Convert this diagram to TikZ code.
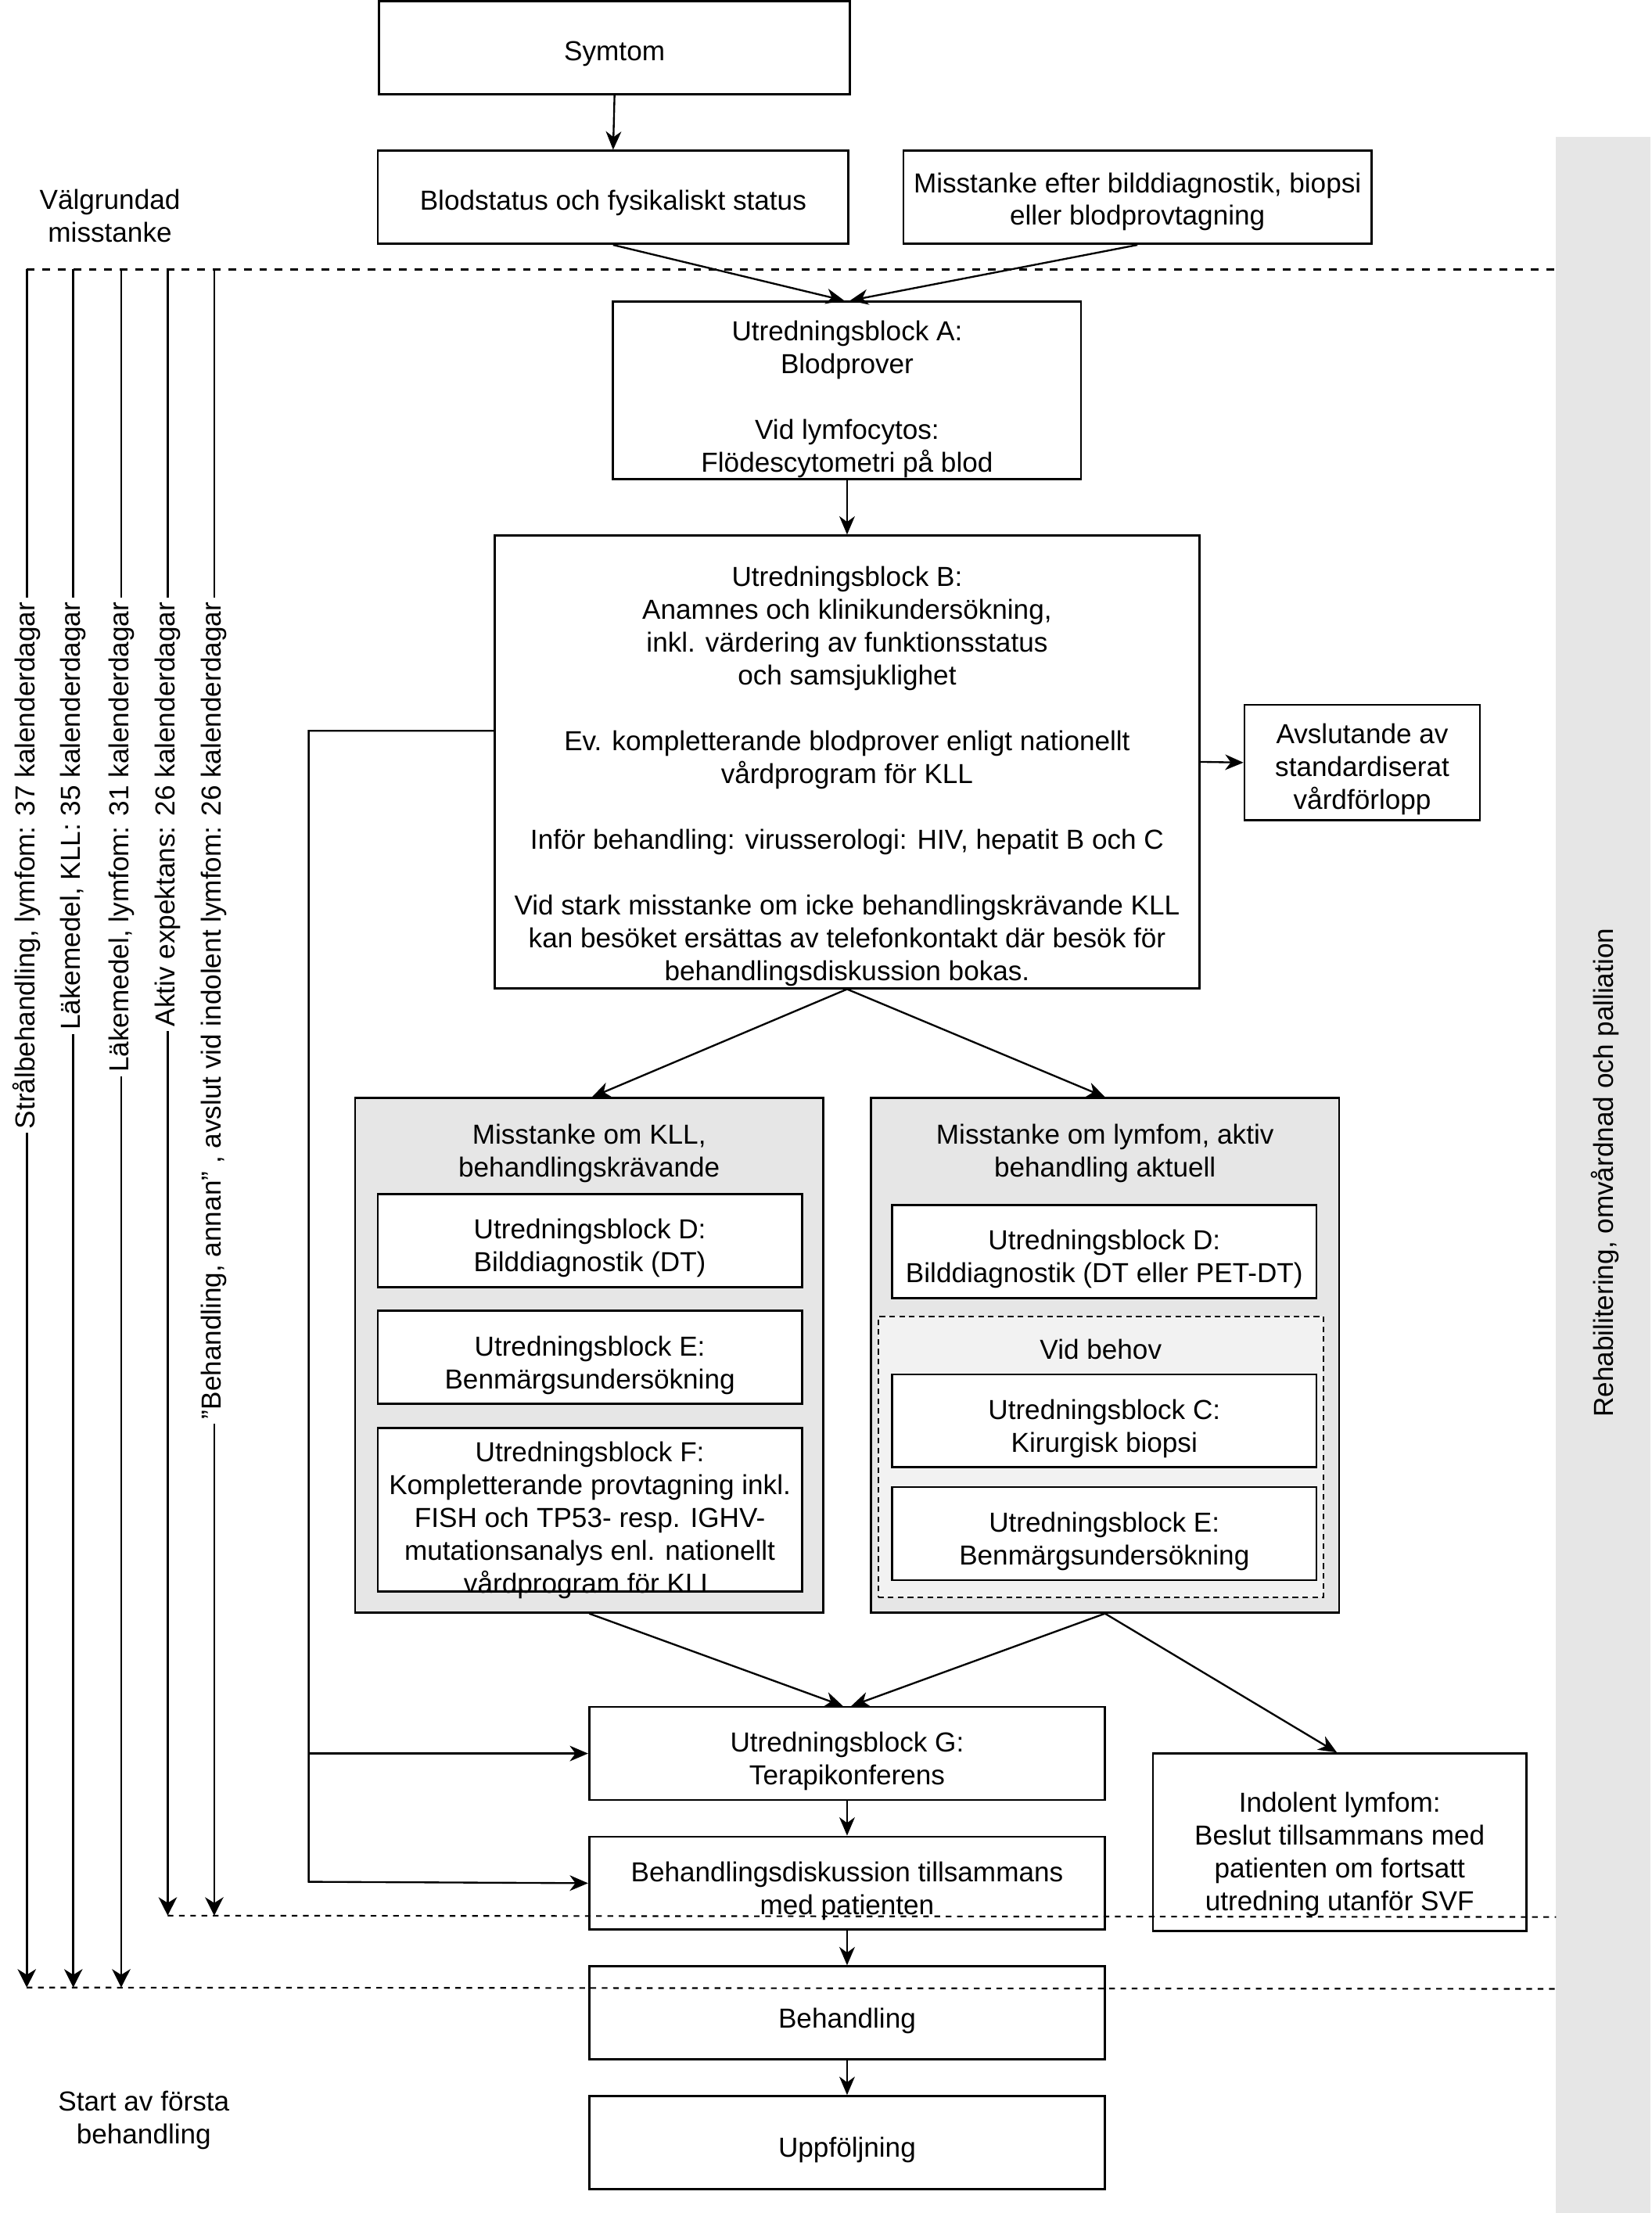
\documentclass[tikz,border=0pt]{standalone}
\usepackage{fontspec}
\setmainfont{Liberation Sans}
\usetikzlibrary{arrows.meta,calc}
\newcommand\dfont{\fontsize{19.5pt}{23.3pt}\selectfont}
\newcommand\bt[2][11pt]{\raisebox{-#1}[0pt][0pt]{\begin{tabular}{@{}c@{}}#2\end{tabular}}}
\definecolor{graybg}{HTML}{E6E6E6}
\definecolor{lightbg}{HTML}{F2F2F2}
\begin{document}
\begin{tikzpicture}[x=1pt,y=-1pt,
  box/.style={draw, fill=white, line width=1.5pt, inner sep=0pt, font=\dfont},
  graybox/.style={draw, fill=graybg, line width=1.4pt, inner sep=0pt},
  txt/.style={inner sep=0pt, align=center, font=\dfont},
  arr/.style={-{Stealth[length=13pt,width=11pt,inset=4pt]}, line width=1.3pt},
  varr/.style={-{Stealth[length=13pt,width=13pt,inset=4pt]}, line width=1.5pt},
  vlab/.style={rotate=90, fill=white, inner xsep=3pt, inner ysep=1pt, font=\dfont, anchor=east},
  dtop/.style={line width=1.5pt, dash pattern=on 5.5pt off 5.5pt},
  dbot/.style={line width=1.2pt, dash pattern=on 4pt off 4pt}
]
\useasboundingbox (0,0) rectangle (1172,1570);
% right band
\fill[graybg] (1104,97) rectangle (1171,1570);
\node[txt, rotate=90] (band) at (1139,832) {Rehabilitering, omvårdnad och palliation};

% side texts
\node[txt] (valg) at (78,153) {Välgrundad\\misstanke};
\node[txt] (start) at (102,1504) {Start av första\\behandling};

% top boxes
\node[box, minimum width=334pt, minimum height=66pt] (sym) at (436,34) {\bt[9.5pt]{Symtom}};
\node[box, minimum width=334pt, minimum height=66pt] (blod) at (435,140) {\bt[9.5pt]{Blodstatus och fysikaliskt status}};
\node[box, minimum width=332pt, minimum height=66pt] (miss) at (807,140) {\bt[8.7pt]{Misstanke efter bilddiagnostik, biopsi\\eller blodprovtagning}};
\node[box, minimum width=332pt, minimum height=126pt] (A) at (601,277) {\bt[11.6pt]{Utredningsblock A:\\Blodprover\\ \\Vid lymfocytos:\\Flödescytometri på blod}};
\node[box, minimum width=500pt, minimum height=321pt] (B) at (601,540.5) {\bt[15.6pt]{Utredningsblock B:\\Anamnes och klinikundersökning,\\inkl. värdering av funktionsstatus\\och samsjuklighet\\ \\Ev. kompletterande blodprover enligt nationellt\\vårdprogram för KLL\\ \\Inför behandling: virusserologi: HIV, hepatit B och C\\ \\Vid stark misstanke om icke behandlingskrävande KLL\\kan besöket ersättas av telefonkontakt där besök för\\behandlingsdiskussion bokas.}};
\node[box, minimum width=167pt, minimum height=82pt] (avs) at (966.5,541) {\bt[10.4pt]{Avslutande av\\standardiserat\\vårdförlopp}};

% gray groups
\node[graybox, minimum width=332pt, minimum height=365pt] (kll) at (418,961.5) {};
\node[txt] (kllt) at (418,818) {Misstanke om KLL,\\behandlingskrävande};
\node[box, minimum width=301pt, minimum height=66pt] (kd) at (418.5,880) {\bt{Utredningsblock D:\\Bilddiagnostik (DT)}};
\node[box, minimum width=301pt, minimum height=66pt] (ke) at (418.5,963) {\bt{Utredningsblock E:\\Benmärgsundersökning}};
\node[box, minimum width=301pt, minimum height=116pt] (kf) at (418.5,1071) {\bt[12.9pt]{Utredningsblock F:\\Kompletterande provtagning inkl.\\FISH och TP53- resp. IGHV-\\mutationsanalys enl. nationellt\\vårdprogram för KLL}};

\node[graybox, minimum width=332pt, minimum height=365pt] (lym) at (784,961.5) {};
\node[txt] (lymt) at (784,818) {Misstanke om lymfom, aktiv\\behandling aktuell};
\node[box, minimum width=301pt, minimum height=66pt] (ld) at (783.5,888) {\bt{Utredningsblock D:\\Bilddiagnostik (DT eller PET-DT)}};
\node[draw, fill=lightbg, line width=1.2pt, dash pattern=on 4pt off 3pt, minimum width=316pt, minimum height=199pt, inner sep=0pt] (vb) at (781,1033.5) {};
\node[txt] (vbt) at (781,957) {Vid behov};
\node[box, minimum width=301pt, minimum height=66pt] (lc) at (783.5,1008) {\bt{Utredningsblock C:\\Kirurgisk biopsi}};
\node[box, minimum width=301pt, minimum height=66pt] (le) at (783.5,1088) {\bt{Utredningsblock E:\\Benmärgsundersökning}};

% lower boxes
\node[box, minimum width=366pt, minimum height=66pt] (G) at (601,1244) {\bt{Utredningsblock G:\\Terapikonferens}};
\node[box, minimum width=265pt, minimum height=126pt] (ind) at (950.5,1307) {\bt[13.9pt]{Indolent lymfom:\\Beslut tillsammans med\\patienten om fortsatt\\utredning utanför SVF}};
\node[box, minimum width=366pt, minimum height=66pt] (bd) at (601,1336) {\bt{Behandlingsdiskussion tillsammans\\med patienten}};
\node[box, minimum width=366pt, minimum height=66pt] (beh) at (601,1428) {\bt{Behandling}};
\node[box, minimum width=366pt, minimum height=66pt] (upp) at (601,1520) {\bt{Uppföljning}};

% connectors
\draw[arr] (sym.south) -- (blod.north);
\draw[arr] (blod.south) -- ([xshift=-2pt]A.north);
\draw[arr] (miss.south) -- ([xshift=2pt]A.north);
\draw[arr] (A.south) -- (B.north);
\draw[arr] (B.east) -- (avs.west);
\coordinate (jl) at (219,1335);
\draw[arr] ([yshift=22pt]B.west) -| (jl) -- (bd.west);
\draw[arr] (G.west -| jl) -- (G.west);
\draw[arr] (B.south) -- ([xshift=2pt]kll.north);
\draw[arr] (B.south) -- (lym.north);
\draw[arr] (kll.south) -- ([xshift=-3pt]G.north);
\draw[arr] (lym.south) -- ([xshift=3pt]G.north);
\draw[arr] (lym.south) -- ([xshift=-2pt]ind.north);
\draw[arr] (G.south) -- (bd.north);
\draw[arr] (bd.south) -- (beh.north);
\draw[arr] (beh.south) -- (upp.north);

% left time lines
\foreach \n/\x/\e in {1/19/1410, 2/52/1410, 3/86/1410, 4/119/1359, 5/152/1359}{
  \coordinate (t\n) at (\x,191);
  \coordinate (b\n) at (\x,\e);
  \draw[varr] (t\n) -- (b\n);
}
\node[vlab] (l1) at (19,424) {Strålbehandling, lymfom: 37 kalenderdagar};
\node[vlab] (l2) at (52,424) {Läkemedel, KLL: 35 kalenderdagar};
\node[vlab] (l3) at (86,424) {Läkemedel, lymfom: 31 kalenderdagar};
\node[vlab] (l4) at (119,424) {Aktiv expektans: 26 kalenderdagar};
\node[vlab] (l5) at (152,424) {"Behandling, annan" , avslut vid indolent lymfom: 26 kalenderdagar};

% dashed milestone lines
\coordinate (r1) at (1104,191);
\coordinate (r2) at (1104,1360);
\coordinate (r3) at (1104,1411);
\draw[dtop] (t1) -- (r1);
\draw[dbot] (b4) -- (r2);
\draw[dbot] (b1) -- (r3);
\end{tikzpicture}
\end{document}
